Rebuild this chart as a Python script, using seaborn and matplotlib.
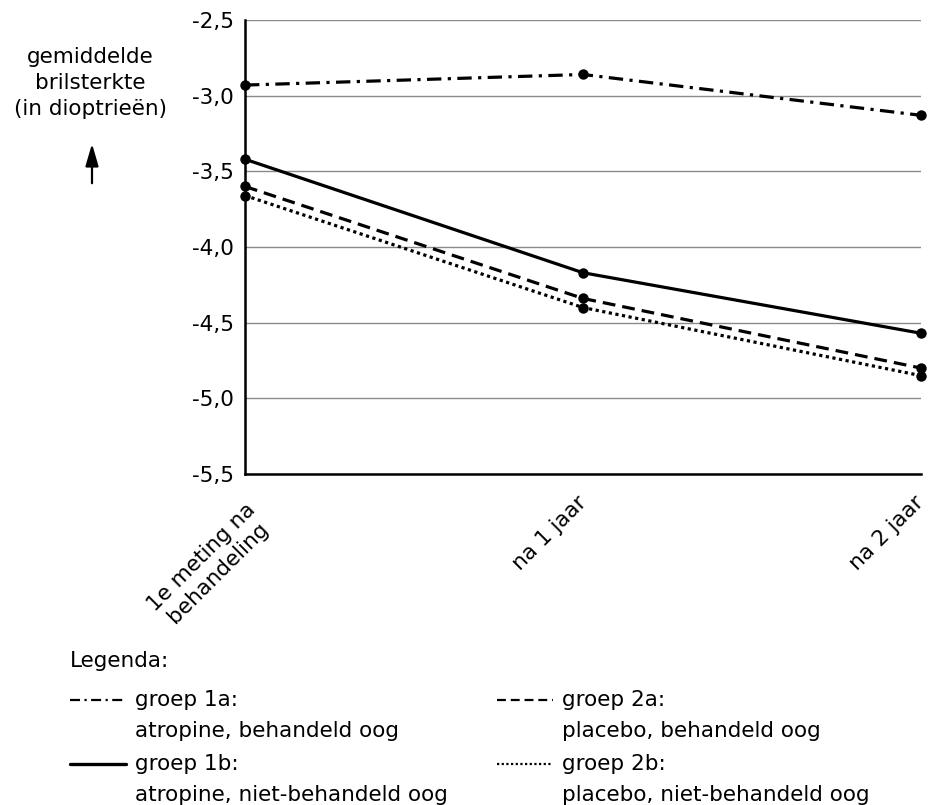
import matplotlib
matplotlib.use("Agg")
import matplotlib.pyplot as plt
from matplotlib.lines import Line2D
from matplotlib.patches import FancyArrowPatch
import seaborn as sns
import pandas as pd

categories = ["1e meting na\nbehandeling", "na 1 jaar", "na 2 jaar"]
groep_1a = [-2.93, -2.86, -3.13]
groep_1b = [-3.42, -4.17, -4.57]
groep_2a = [-3.60, -4.34, -4.80]
groep_2b = [-3.66, -4.40, -4.85]
y_ticks = [-2.5, -3.0, -3.5, -4.0, -4.5, -5.0, -5.5]
y_ticklabels = ["-2,5", "-3,0", "-3,5", "-4,0", "-4,5", "-5,0", "-5,5"]
series_names = ["groep 1a", "groep 1b", "groep 2a", "groep 2b"]
legend_desc = ["atropine, behandeld oog", "atropine, niet-behandeld oog",
               "placebo, behandeld oog", "placebo, niet-behandeld oog"]

rows = []
for name, vals in zip(series_names, [groep_1a, groep_1b, groep_2a, groep_2b]):
    for i, v in enumerate(vals):
        rows.append({"meting": i, "waarde": v, "groep": name})
df = pd.DataFrame(rows)

sns.set_style("white")
plt.rcParams["font.family"] = ["DejaVu Sans"]
plt.rcParams["text.color"] = "black"
plt.rcParams["xtick.color"] = "black"
plt.rcParams["ytick.color"] = "black"
plt.rcParams["xtick.labelcolor"] = "black"
plt.rcParams["ytick.labelcolor"] = "black"
FS = 15.5

fig = plt.figure(figsize=(9.33, 8.05), dpi=100)
ax = fig.add_axes([245/933, 1-474/805, (921-245)/933, (474-20)/805])

dashes = {"groep 1a": (4.5, 2.0, 1, 2.0), "groep 1b": "",
          "groep 2a": (4.0, 2.2), "groep 2b": (1, 1.1)}
sns.lineplot(data=df, x="meting", y="waarde", style="groep", dashes=dashes,
             markers={n: "o" for n in series_names}, color="black",
             linewidth=2.3, markersize=7.5, markeredgewidth=0, legend=False,
             ax=ax, zorder=3, clip_on=False)

ax.set_xlim(0, len(categories)-1)
ax.set_ylim(-5.5, -2.5)
ax.set_yticks(y_ticks)
ax.set_yticklabels(y_ticklabels, fontsize=FS, color="black")
ax.set_xticks(range(len(categories)))
ax.set_xticklabels(categories, fontsize=FS, rotation=45, ha="right", va="center",
                   rotation_mode="anchor", multialignment="center", color="black")
ax.get_xticklabels()[0].set_va("top")
ax.set_xlabel("")
ax.set_ylabel("")
ax.yaxis.grid(True, color="#8a8a8a", linewidth=1.0)
ax.xaxis.grid(False)
for s in ["top", "right"]:
    ax.spines[s].set_visible(False)
for s in ["left", "bottom"]:
    ax.spines[s].set_color("black")
    ax.spines[s].set_linewidth(1.8)
ax.tick_params(axis="y", direction="inout", length=12, width=1.5, color="black", pad=2)
ax.tick_params(axis="x", direction="inout", length=12, width=1.5, color="black", pad=12)

# y-axis caption
fig.text(90/933, 1-83/805, "gemiddelde\nbrilsterkte\n(in dioptrieën)", ha="center",
         va="center", fontsize=FS, linespacing=1.38, color="black")
fig.add_artist(FancyArrowPatch((92/933, 1-186/805), (92/933, 1-141/805),
               transform=fig.transFigure, arrowstyle="-|>,head_length=0.75,head_width=0.22",
               mutation_scale=18, color="black", linewidth=1.6))

# legend
fig.text(70/933, 1-661/805, "Legenda:", fontsize=FS, ha="left", va="center", color="black")
entries = [(0, 0), (0, 1), (1, 0), (1, 1)]
col_x = [70, 497]
row_y = [700, 764]
for (c, r), name, desc in zip(entries, series_names, legend_desc):
    x0 = col_x[c]
    y0 = row_y[r]
    ls = dashes[name]
    line = Line2D([x0/933, (x0+56)/933], [1-y0/805, 1-y0/805], transform=fig.transFigure,
                  color="black", linewidth=1.6 if ls != "" else 2.4)
    if ls != "":
        line.set_dashes(ls)
    fig.add_artist(line)
    fig.text((x0+65)/933, 1-y0/805, name + ":", fontsize=FS, ha="left", va="center", color="black")
    fig.text((x0+65)/933, 1-(y0+31)/805, desc, fontsize=FS, ha="left", va="center", color="black")

fig.savefig("out.png", dpi=100)
